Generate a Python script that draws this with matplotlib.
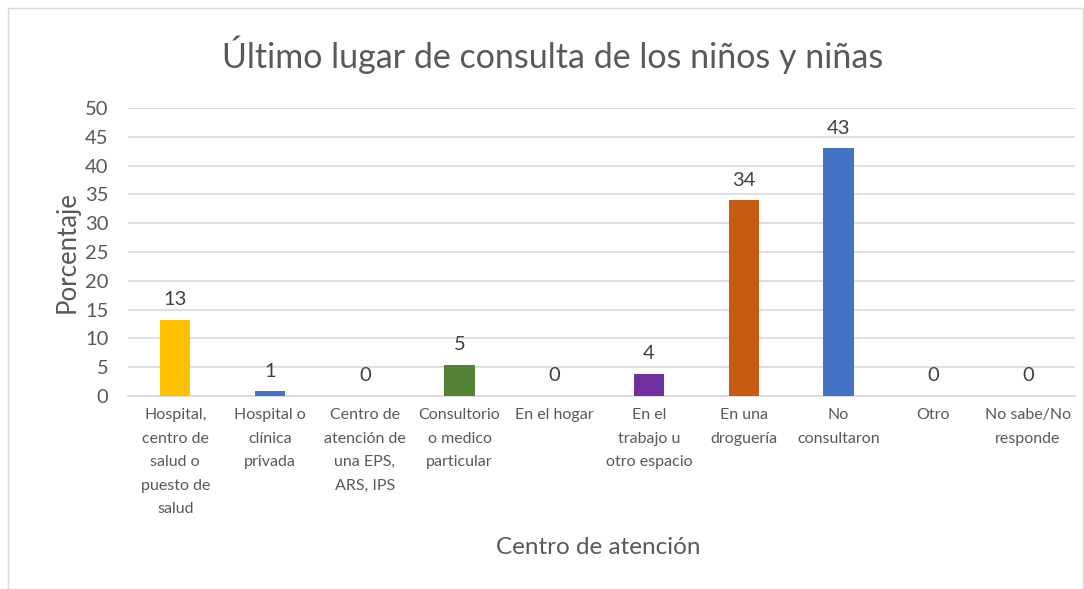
import matplotlib
matplotlib.use("Agg")
import matplotlib.pyplot as plt
from matplotlib.patches import Rectangle

categories = ["Hospital,\ncentro de\nsalud o\npuesto de\nsalud", "Hospital o\nclínica\nprivada",
              "Centro de\natención de\nuna EPS,\nARS, IPS", "Consultorio\no medico\nparticular",
              "En el hogar", "En el\ntrabajo u\notro espacio", "En una\ndroguería",
              "No\nconsultaron", "Otro", "No sabe/No\nresponde"]
values = [13.2, 0.8, 0, 5.4, 0, 3.9, 34.0, 43.0, 0, 0]
colors = ["#FFC000", "#4472C4", "#A5A5A5", "#548235", "#264478", "#7030A0",
          "#C55A11", "#4472C4", "#9E480E", "#636363"]
yticks = [0, 5, 10, 15, 20, 25, 30, 35, 40, 45, 50]

plt.rcParams['font.family'] = ['Lato', 'DejaVu Sans']
fig = plt.figure(figsize=(10.84, 5.89), dpi=100)
fig.patches.append(Rectangle((8/1084, 0), 1 - 8/1084 - 0.001, 1 - 8/589, transform=fig.transFigure,
                             fill=False, edgecolor="#D9D9D9", linewidth=1))
ax = fig.add_axes([0.118, 0.3277, 0.874, 0.4889])
x = list(range(len(categories)))
bars = ax.bar(x, values, width=0.32, color=colors, zorder=3)
for xi, v in zip(x, values):
    ax.text(xi, v + 2.0, f"{v:.0f}", ha="center", va="bottom", fontsize=14.5, color="#404040")
ax.set_xlim(-0.5, len(categories) - 0.5)
ax.set_ylim(0, 50)
ax.set_yticks(yticks)
ax.yaxis.grid(True, color="#D9D9D9", linewidth=1.2, zorder=0)
ax.set_xticks(x)
ax.set_xticklabels(categories, fontsize=11.5, color="#595959", va="top", linespacing=1.85)
ax.tick_params(axis="x", length=0, pad=9)
ax.tick_params(axis="y", length=0, labelsize=14.5, labelcolor="#595959", pad=14)
for s in ["top", "right", "left"]:
    ax.spines[s].set_visible(False)
ax.spines["bottom"].set_color("#D9D9D9")
ax.spines["bottom"].set_linewidth(1.2)
ax.set_ylabel("Porcentaje", fontsize=18.5, color="#595959", labelpad=4)
fig.text(0.552, 0.07, "Centro de atención", ha="center", va="center", fontsize=17.5, color="#595959")
fig.text(0.51, 0.907, "Último lugar de consulta de los niños y niñas", ha="center", va="center",
         fontsize=24.5, color="#595959")
fig.savefig("out.png", dpi=100)
